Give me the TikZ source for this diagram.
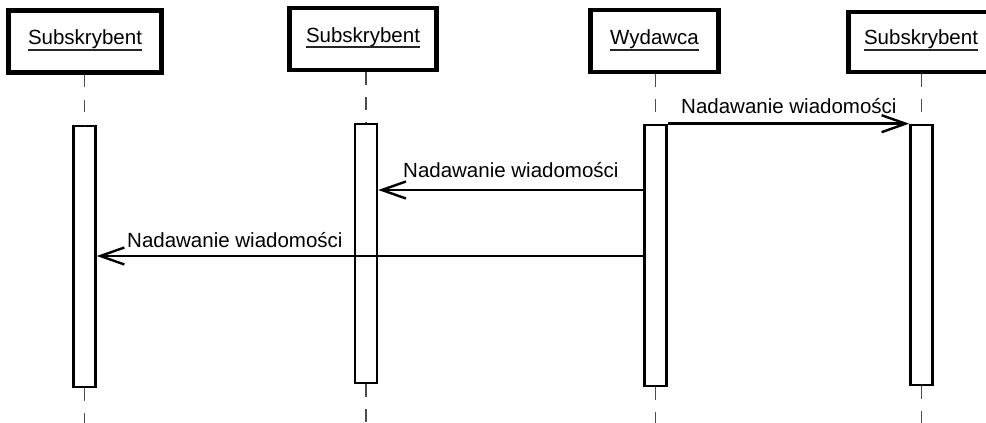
\documentclass[tikz,border=0pt]{standalone}
\usepackage{fontspec}
\setmainfont{Liberation Sans}
\usetikzlibrary{arrows.meta}

\tikzset{
  actorbox/.style={draw=black, line width=4.2pt, fill=white, inner sep=0pt},
  actorname/.style={font=\fontsize{20.5}{24}\selectfont, inner sep=0pt, anchor=base},
  uline/.style={line width=1.8pt, draw=black!85},
  lifeline/.style={draw=black!70, line width=1.8pt, dash pattern=on 12.5pt off 12.5pt},
  activation/.style={draw=black, line width=2.6pt, fill=white, inner sep=0pt, minimum width=22pt},
  msg/.style={draw=black, line width=2.6pt, -{Straight Barb[length=24pt, width=17pt, line width=2.4pt]}},
  msglabel/.style={font=\fontsize{20.5}{24}\selectfont, inner sep=0pt, anchor=base west},
}

\begin{document}
\begin{tikzpicture}[x=1pt, y=-1pt]
  \useasboundingbox (0,0) rectangle (986,423);

  % participant headers
  \node[actorbox, minimum width=153pt, minimum height=62pt] (h1) at (85,41.5) {};
  \node[actorbox, minimum width=147pt, minimum height=62pt] (h2) at (363,39) {};
  \node[actorbox, minimum width=128pt, minimum height=62pt] (h3) at (654.5,41) {};
  \node[actorbox, minimum width=147pt, minimum height=60pt] (h4) at (922,42) {};

  \node[actorname] (t1) at (85,45) {Subskrybent};
  \node[actorname] (t2) at (363,42) {Subskrybent};
  \node[actorname] (t3) at (654.5,45) {Wydawca};
  \node[actorname] (t4) at (921,45) {Subskrybent};
  \draw[uline] ([yshift=-5pt]t1.base west) -- ([yshift=-5pt]t1.base east);
  \draw[uline] ([yshift=-5pt]t2.base west) -- ([yshift=-5pt]t2.base east);
  \draw[uline] ([yshift=-5pt]t3.base west) -- ([yshift=-5pt]t3.base east);
  \draw[uline] ([yshift=-5pt]t4.base west) -- ([yshift=-5pt]t4.base east);

  % activation bars
  \node[activation, minimum height=261pt] (b1) at (84.5,256.5) {};
  \node[activation, minimum height=259pt] (b2) at (366,253.5) {};
  \node[activation, minimum height=261pt] (b3) at (655.5,255.5) {};
  \node[activation, minimum height=260pt] (b4) at (921.5,255) {};

  % lifelines, drawn straight down through each bar's centre
  \coordinate (e1) at (84.5,423);
  \coordinate (e2) at (366,423);
  \coordinate (e3) at (655.5,423);
  \coordinate (e4) at (921.5,423);
  \draw[lifeline] (b1.north |- h1.south) -- (b1.north);
  \draw[lifeline] (b2.north |- h2.south) -- (b2.north);
  \draw[lifeline] (b3.north |- h3.south) -- (b3.north);
  \draw[lifeline] (b4.north |- h4.south) -- (b4.north);
  \draw[lifeline] (b1.south) -- (e1);
  \draw[lifeline] (b2.south) -- (e2);
  \draw[lifeline] (b3.south) -- (e3);
  \draw[lifeline] (b4.south) -- (e4);

  % messages
  \draw[msg] (b3.north east) -- (b4.north west);
  \draw[msg] (b3.west |- 0,190) -- (b2.east |- 0,190);
  \draw[msg] (b3.west |- 0,256) -- (b1.east |- 0,256);

  \node[msglabel] (l1) at (681,113) {Nadawanie wiadomości};
  \node[msglabel] (l2) at (403,177) {Nadawanie wiadomości};
  \node[msglabel] (l3) at (127,247) {Nadawanie wiadomości};
\end{tikzpicture}
\end{document}
